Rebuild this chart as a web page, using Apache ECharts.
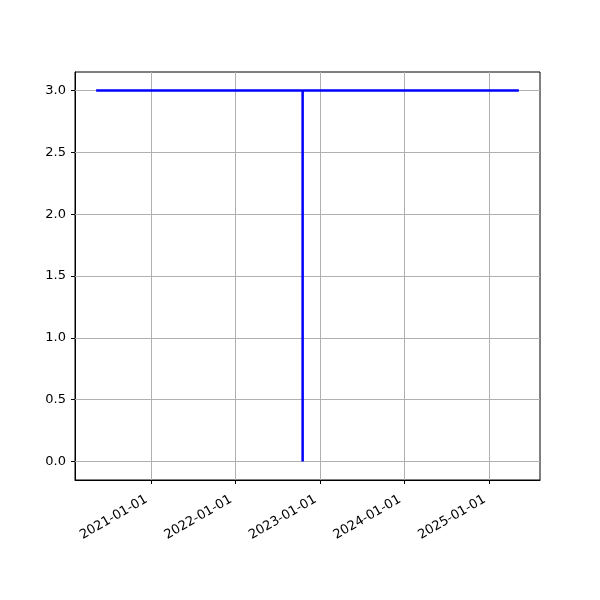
<!DOCTYPE html>
<html><head><meta charset="utf-8">
<script src="https://cdn.jsdelivr.net/npm/echarts@6/dist/echarts.min.js"></script>
<style>html,body{margin:0;padding:0;background:#fff}#c{width:600px;height:600px}</style>
</head><body><div id="c"></div>
<script>
const hDates = ['2020-05-10', '2025-05-10'];
const hValues = [3, 3];
const vDates = ['2022-10-19', '2022-10-19'];
const vValues = [0, 3];
const xTicks = ['2021-01-01', '2022-01-01', '2023-01-01', '2024-01-01', '2025-01-01'];
const yTicks = [0, 0.5, 1.0, 1.5, 2.0, 2.5, 3.0];

const t = s => Date.parse(s + 'T00:00:00Z');
const t0 = t(hDates[0]), t1 = t(hDates[1]), span = t1 - t0;
const xTickVals = xTicks.map(t);
const font = {fontFamily: 'DejaVu Sans', fontSize: 13, color: '#000'};

const chart = echarts.init(document.getElementById('c'), null, {renderer: 'canvas'});
chart.setOption({
  animation: false,
  grid: {left: 75, right: 60, top: 72, bottom: 120, show: true, borderColor: '#000', borderWidth: 1},
  xAxis: {
    type: 'value', min: t0 - span * 0.05, max: t1 + span * 0.05,
    axisLine: {show: true, onZero: false, lineStyle: {color: '#000'}},
    axisTick: {show: true, length: 4, lineStyle: {color: '#000'}, customValues: xTickVals},
    axisLabel: Object.assign({rotate: 30, margin: 16, padding: [0, 5, 0, 0], customValues: xTickVals,
      formatter: v => { const d = new Date(v); return d.toISOString().slice(0, 10); }}, font),
    splitLine: {show: false}
  },
  yAxis: {
    type: 'value', min: -0.15, max: 3.15,
    axisLine: {show: true, onZero: false, lineStyle: {color: '#000'}},
    axisTick: {show: true, length: 4, lineStyle: {color: '#000'}, customValues: yTicks},
    axisLabel: Object.assign({margin: 9, customValues: yTicks, formatter: v => v.toFixed(1)}, font),
    splitLine: {show: false}
  },
  series: [
    {type: 'line', data: [], silent: true, z: 0,
     markLine: {symbol: 'none', silent: true, label: {show: false},
       lineStyle: {color: '#b0b0b0', width: 1, type: 'solid'},
       data: xTickVals.map(v => ({xAxis: v})).concat(yTicks.map(v => ({yAxis: v})))}},
    {type: 'line', data: hDates.map((d, i) => [t(d), hValues[i]]), showSymbol: false, zlevel: 1,
     lineStyle: {color: '#0000ff', width: 2.5}},
    {type: 'line', data: vDates.map((d, i) => [t(d), vValues[i]]), showSymbol: false, zlevel: 1,
     lineStyle: {color: '#0000ff', width: 2.5}}
  ]
});
</script></body></html>
